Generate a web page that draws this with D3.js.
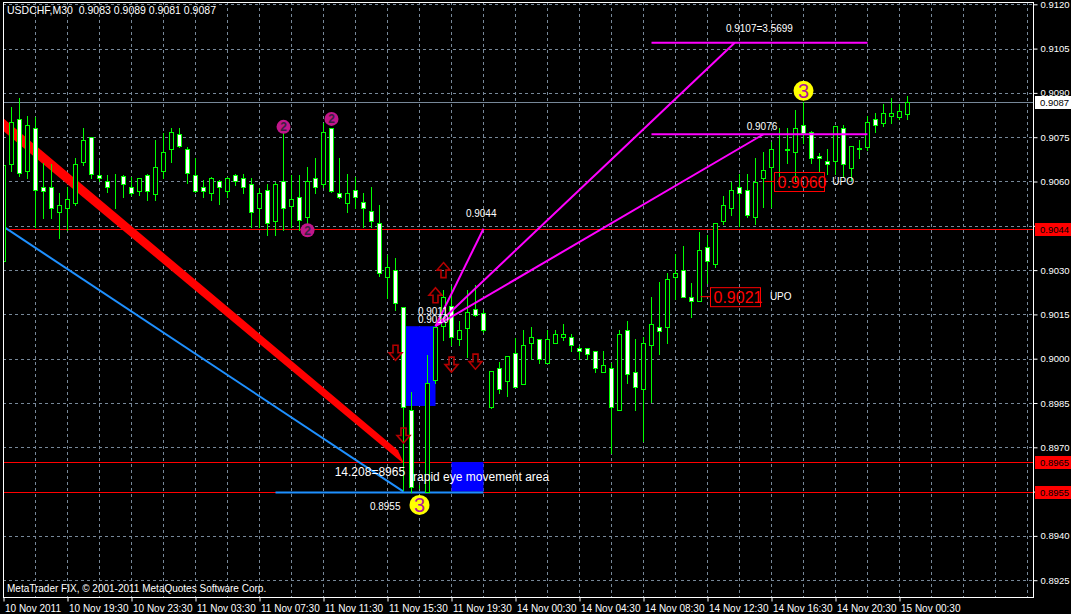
<!DOCTYPE html>
<html><head><meta charset="utf-8">
<script src="https://cdn.jsdelivr.net/npm/d3@7"></script>
<style>html,body{margin:0;padding:0;background:#000;}svg{display:block;}</style>
</head><body>
<svg id="chart" width="1071" height="614"></svg>
<script>
// ---------- DATA ----------
const timeLabels = ["10 Nov 2011","10 Nov 19:30","10 Nov 23:30","11 Nov 03:30","11 Nov 07:30","11 Nov 11:30","11 Nov 15:30","11 Nov 19:30","14 Nov 00:30","14 Nov 04:30","14 Nov 08:30","14 Nov 12:30","14 Nov 16:30","14 Nov 20:30","15 Nov 00:30"];
const priceTicks = [0.9120,0.9105,0.9090,0.9075,0.9060,0.9045,0.9030,0.9015,0.9000,0.8985,0.8970,0.8955,0.8940,0.8925];
const open  = [.90330,.90658,.90810,.90636,.90780,.90580,.90580,.90498,.90509,.90528,.90667,.90749,.90622,.90601,.90592,.90620,.90580,.90569,.90622,.90558,
               .90637,.90709,.90760,.90709,.90622,.90580,.90560,.90601,.90569,.90622,.90611,.90592,.90509,.90571,.90467,.90601,.90517,.90549,.90479,.90611,
               .90590,.90780,.90560,.90528,.90571,.90530,.90500,.90458,.90277,.90300,.90176,.89826,.89570,.89550,.89928,.90110,.90180,.90066,.90103,.90168,
               .90156,.89835,.89967,.89925,.90018,.89915,.90053,.90066,.89986,.90053,.90075,.90075,.90036,.90036,.90026,.89955,.89967,.89826,.90097,.89955,
               .89896,.90047,.90107,.90107,.90278,.90300,.90208,.90197,.90378,.90320,.90467,.90509,.90580,.90571,.90479,.90611,.90650,.90700,.90708,.90701,
               .90791,.90768,.90688,.90668,.90668,.90780,.90646,.90710,.90718,.90810,.90799,.90822,.90819,.90830];
const high  = [.90700,.90853,.90882,.90823,.90819,.90662,.90660,.90560,.90582,.90679,.90782,.90752,.90673,.90622,.90627,.90622,.90616,.90613,.90625,.90741,
               .90763,.90780,.90780,.90717,.90679,.90605,.90616,.90605,.90616,.90627,.90627,.90611,.90577,.90592,.90599,.90763,.90622,.90622,.90650,.90679,
               .90797,.90782,.90679,.90627,.90616,.90560,.90580,.90520,.90351,.90340,.90176,.89888,.89574,.90013,.90108,.90233,.90245,.90129,.90233,.90250,
               .90165,.89960,.89988,.90009,.90069,.90097,.90107,.90066,.90097,.90097,.90117,.90085,.90044,.90036,.90026,.90026,.89985,.90097,.90129,.90066,
               .90075,.90209,.90260,.90291,.90356,.90381,.90255,.90430,.90419,.90458,.90550,.90599,.90627,.90627,.90679,.90701,.90735,.90780,.90780,.90842,
               .90870,.90770,.90698,.90710,.90789,.90791,.90720,.90741,.90822,.90832,.90862,.90882,.90862,.90890];
const low   = [.90310,.90636,.90620,.90611,.90447,.90477,.90477,.90408,.90436,.90520,.90656,.90611,.90600,.90565,.90509,.90548,.90553,.90553,.90536,.90536,
               .90611,.90667,.90717,.90594,.90565,.90548,.90536,.90525,.90548,.90588,.90560,.90447,.90447,.90418,.90418,.90436,.90447,.90436,.90458,.90560,
               .90582,.90565,.90545,.90498,.90509,.90447,.90447,.90280,.90204,.90164,.89555,.89549,.89561,.89550,.89919,.90063,.90047,.90047,.90007,.90144,
               .90090,.89833,.89885,.89875,.89905,.89915,.89998,.89986,.89986,.90053,.90063,.90026,.89998,.89998,.89955,.89955,.89680,.89826,.89918,.89826,
               .89720,.89853,.90016,.90053,.90203,.90208,.90140,.90197,.90256,.90310,.90456,.90486,.90449,.90479,.90456,.90513,.90515,.90616,.90662,.90605,
               .90731,.90662,.90637,.90627,.90627,.90616,.90605,.90679,.90707,.90769,.90788,.90799,.90810,.90810];
const close = [.90655,.90800,.90628,.90790,.90570,.90569,.90509,.90519,.90540,.90658,.90741,.90626,.90611,.90580,.90590,.90590,.90560,.90611,.90569,.90649,
               .90699,.90768,.90719,.90628,.90569,.90569,.90611,.90580,.90611,.90601,.90580,.90498,.90560,.90458,.90592,.90509,.90540,.90468,.90601,.90580,
               .90769,.90569,.90548,.90560,.90548,.90509,.90467,.90289,.90309,.90187,.89835,.89564,.89568,.89918,.90108,.90208,.90075,.90097,.90159,.90149,
               .90097,.89958,.89896,.90009,.89905,.90048,.90075,.89998,.90066,.90085,.90085,.90047,.90026,.90016,.89967,.89977,.89835,.90085,.89948,.89905,
               .90054,.90117,.90095,.90270,.90289,.90208,.90197,.90368,.90330,.90458,.90520,.90571,.90560,.90486,.90599,.90639,.90711,.90701,.90710,.90780,
               .90765,.90679,.90680,.90660,.90789,.90660,.90720,.90712,.90800,.90790,.90831,.90831,.90840,.90870];
const lastPrice = 0.9087;
const levelLines = [0.9044, 0.8965, 0.8955];
const boxes = [[50, 54, 0.9011, 0.8984], [56, 60, 0.8965, 0.8955]];
const fanOrigin = [54, 0.9011];
const fanTargets = [[60, 0.9044], [91.4, 0.9107], [95, 0.9076]];
const fibLevels = [[81, 108, 0.9107], [81, 108, 0.9076]];
const redBand = [[-0.5, 0.90825], [-0.5, 0.90782], [50.1, 0.89643], [49.3, 0.89690]];
const blueTrend = [[0, 0.90447], [50, 0.8955]];
const blueLevel = [34, 60, 0.8955];
const upArrows = [[55, 0.9030], [54, 0.90215]];
const downArrows = [[49, 0.9002], [56, 0.8998], [59, 0.8999], [50, 0.8974]];
const yellowMarks = [[100, 0.90907, "3"], [52, 0.89505, "3"]];
const purpleMarks = [[35, 0.90785, "2"], [41, 0.90812, "2"], [38, 0.90435, "2"]];
const priceBoxes = [[87, 0.9021, "0.9021"], [95, 0.9060, "0.9060"]];
const upoLabels = [[95.8, 0.9021], [103.6, 0.9060]];

// ---------- SCALES ----------
const W = 1071, H = 614, L = 3, R = 1033, T = 2, B = 597;
const x = d3.scaleLinear().domain([0, 1]).range([3.5, 11.5]);
const y = d3.scaleLinear().domain([0.8925, 0.9120]).range([580.2, 4.3]);
const svg = d3.select("#chart");
svg.append("rect").attr("width", W).attr("height", H).attr("fill", "#000");
svg.append("defs").append("clipPath").attr("id", "clip")
  .append("rect").attr("x", L).attr("y", T).attr("width", R - L).attr("height", B - T);
const font = "'Liberation Sans', Arial, sans-serif";

// grid
const grid = svg.append("g").attr("stroke", "#778899").attr("stroke-dasharray", "3,3").attr("shape-rendering", "crispEdges");
grid.selectAll("line.h").data(priceTicks).join("line")
  .attr("x1", L).attr("x2", R).attr("y1", d => Math.round(y(d)) + 0.5).attr("y2", d => Math.round(y(d)) + 0.5);
grid.selectAll("line.v").data(d3.range(0, 129, 4)).join("line")
  .attr("x1", d => x(d)).attr("x2", d => x(d)).attr("y1", T).attr("y2", B);

const plot = svg.append("g").attr("clip-path", "url(#clip)");

// level lines
plot.append("line").attr("x1", L).attr("x2", R).attr("y1", Math.round(y(lastPrice)) + 0.5).attr("y2", Math.round(y(lastPrice)) + 0.5)
  .attr("stroke", "#778899").attr("shape-rendering", "crispEdges");
plot.selectAll("line.lvl").data(levelLines).join("line")
  .attr("x1", L).attr("x2", R).attr("y1", d => Math.round(y(d)) + 0.5).attr("y2", d => Math.round(y(d)) + 0.5)
  .attr("stroke", "#ff0000").attr("shape-rendering", "crispEdges");

// boxes
plot.selectAll("rect.box").data(boxes).join("rect")
  .attr("x", d => x(d[0])).attr("width", d => x(d[1]) - x(d[0]))
  .attr("y", d => y(d[2])).attr("height", d => y(d[3]) - y(d[2])).attr("fill", "#0000ff");

// red thick trend band
plot.append("polygon").attr("points", redBand.map(d => [x(d[0]), y(d[1])].join(",")).join(" "))
  .attr("fill", "#ff0000");
// blue trend
plot.append("line").attr("x1", x(blueTrend[0][0])).attr("y1", y(blueTrend[0][1]))
  .attr("x2", x(blueTrend[1][0])).attr("y2", y(blueTrend[1][1]))
  .attr("stroke", "#1e90ff").attr("stroke-width", 2);
plot.append("line").attr("x1", x(blueLevel[0])).attr("x2", x(blueLevel[1]))
  .attr("y1", Math.round(y(blueLevel[2])) + 0.5).attr("y2", Math.round(y(blueLevel[2])) + 0.5)
  .attr("stroke", "#1e90ff").attr("stroke-width", 2);

// candles
const idx = d3.range(open.length);
const cg = plot.append("g").attr("shape-rendering", "crispEdges");
cg.selectAll("line.wick").data(idx).join("line")
  .attr("x1", i => x(i)).attr("x2", i => x(i))
  .attr("y1", i => Math.round(y(high[i]))).attr("y2", i => Math.round(y(low[i])) + 1)
  .attr("stroke", "#00ff00");
cg.selectAll("rect.body").data(idx).join("rect")
  .attr("x", i => x(i) - 2).attr("width", 4)
  .attr("y", i => Math.round(y(Math.max(open[i], close[i]))) + 0.5)
  .attr("height", i => Math.max(0, Math.round(y(Math.min(open[i], close[i]))) - Math.round(y(Math.max(open[i], close[i])))))
  .attr("fill", i => close[i] >= open[i] ? "#000" : "#fff")
  .attr("stroke", "#00ff00");

// fan lines
const fg = plot.append("g").attr("stroke", "#ff00ff").attr("stroke-width", 2);
fg.selectAll("line.fan").data(fanTargets).join("line")
  .attr("x1", x(fanOrigin[0])).attr("y1", y(fanOrigin[1]))
  .attr("x2", d => x(d[0])).attr("y2", d => y(d[1]));
fg.selectAll("line.fib").data(fibLevels).join("line")
  .attr("x1", d => x(d[0])).attr("x2", d => x(d[1])).attr("y1", d => y(d[2])).attr("y2", d => y(d[2]));

// arrows
const upPath = "M0,-7.5L6.5,0L2.5,0L2.5,7.5L-2.5,7.5L-2.5,0L-6.5,0Z";
const ag = plot.append("g").attr("fill", "none").attr("stroke", "#b40000").attr("stroke-width", 1.6);
ag.selectAll("path.up").data(upArrows).join("path").attr("d", upPath)
  .attr("transform", d => `translate(${x(d[0])},${y(d[1])})`);
ag.selectAll("path.dn").data(downArrows).join("path").attr("d", upPath)
  .attr("transform", d => `translate(${x(d[0])},${y(d[1])}) rotate(180)`);

// marks
const tg = plot.append("g").attr("font-family", font);
yellowMarks.forEach(d => {
  tg.append("circle").attr("cx", x(d[0])).attr("cy", y(d[1])).attr("r", 10).attr("fill", "#ffff00");
  tg.append("text").attr("x", x(d[0])).attr("y", y(d[1]) + 7).attr("text-anchor", "middle")
    .attr("font-size", 20).attr("fill", "#b0149a").text(d[2]);
});
purpleMarks.forEach(d => {
  tg.append("circle").attr("cx", x(d[0])).attr("cy", y(d[1])).attr("r", 7).attr("fill", "#c0168a");
  tg.append("text").attr("x", x(d[0])).attr("y", y(d[1]) + 4.5).attr("text-anchor", "middle")
    .attr("font-size", 12).attr("font-weight", "bold").attr("fill", "#3a2040").text(d[2]);
});

// price boxes
priceBoxes.forEach(d => {
  const px = x(d[0]), py = y(d[1]);
  tg.append("line").attr("x1", px + 1).attr("x2", px + 11).attr("y1", py).attr("y2", py).attr("stroke", "#ff0000");
  tg.append("rect").attr("x", px + 11).attr("y", py - 9).attr("width", 50).attr("height", 19)
    .attr("fill", "none").attr("stroke", "#ff0000");
  tg.append("text").attr("x", px + 14).attr("y", py + 6).attr("font-size", 16).attr("fill", "#ff0000").text(d[2]);
});
upoLabels.forEach(d => {
  tg.append("text").attr("x", x(d[0])).attr("y", y(d[1]) + 3.5).attr("font-size", 10).attr("fill", "#fff").text("UPO");
});

// text annotations
const notes = [
  [90.3, 0.91105, "0.9107=3.5699", 10],
  [92.9, 0.90775, "0.9076", 10],
  [57.8, 0.9048, "0.9044", 10],
  [51.8, 0.90148, "0.9011", 10],
  [51.8, 0.90122, "0.9010", 10],
  [41.4, 0.89603, "14.208=8965", 12],
  [51.2, 0.89587, "rapid eye movement area", 12],
  [45.8, 0.89488, "0.8955", 10]
];
tg.selectAll("text.note").data(notes).join("text")
  .attr("x", d => x(d[0])).attr("y", d => y(d[1])).attr("font-size", d => d[3]).attr("fill", "#fff").text(d => d[2]);

// borders
const bord = svg.append("g").attr("stroke", "#fff").attr("shape-rendering", "crispEdges");
bord.append("line").attr("x1", L + 0.5).attr("x2", L + 0.5).attr("y1", T).attr("y2", B);
bord.append("line").attr("x1", R + 0.5).attr("x2", R + 0.5).attr("y1", T).attr("y2", B);
bord.append("line").attr("x1", L).attr("x2", R + 1).attr("y1", B + 0.5).attr("y2", B + 0.5);
bord.append("line").attr("x1", L).attr("x2", R + 1).attr("y1", T + 0.5).attr("y2", T + 0.5);

// right axis
const yAxis = d3.axisRight(y).tickValues(priceTicks).tickFormat(d3.format(".4f")).tickSize(4).tickSizeOuter(0);
const ya = svg.append("g").attr("transform", `translate(${R + 0.5},0)`).call(yAxis);
ya.select(".domain").remove();
ya.selectAll("line").attr("stroke", "#fff");
ya.selectAll("text").attr("fill", "#fff").attr("font-family", font).attr("font-size", 9.5).attr("x", 7);

// price labels on axis
const plabels = [[lastPrice, "#ffffff"], [0.9044, "#ff0000"], [0.8965, "#ff0000"], [0.8955, "#ff0000"]];
plabels.forEach(d => {
  const py = Math.round(y(d[0]));
  svg.append("rect").attr("x", R + 2).attr("y", py - 6).attr("width", 38).attr("height", 13).attr("fill", d[1]);
  svg.append("text").attr("x", R + 7).attr("y", py + 4).attr("font-family", font).attr("font-size", 9.5)
    .attr("fill", "#000").text(d3.format(".4f")(d[0]));
});

// bottom axis
const xTicks = timeLabels.map((t, k) => k * 8);
const xAxis = d3.axisBottom(x).tickValues(xTicks).tickFormat((d, k) => timeLabels[k]).tickSize(4).tickSizeOuter(0);
const xa = svg.append("g").attr("transform", `translate(0,${B + 0.5})`).call(xAxis);
xa.select(".domain").remove();
xa.selectAll("line").attr("stroke", "#fff");
xa.selectAll("text").attr("fill", "#fff").attr("font-family", font).attr("font-size", 10)
  .attr("text-anchor", "start").attr("dx", 1).attr("y", 7);

// title & copyright
svg.append("text").attr("x", 7).attr("y", 14).attr("font-family", font).attr("font-size", 10.5).attr("fill", "#fff")
  .style("white-space", "pre").text("USDCHF,M30  0.9083 0.9089 0.9081 0.9087");
svg.append("text").attr("x", 7).attr("y", 592).attr("font-family", font).attr("font-size", 10).attr("fill", "#fff")
  .text("MetaTrader FIX, © 2001-2011 MetaQuotes Software Corp.");
</script>
</body></html>
